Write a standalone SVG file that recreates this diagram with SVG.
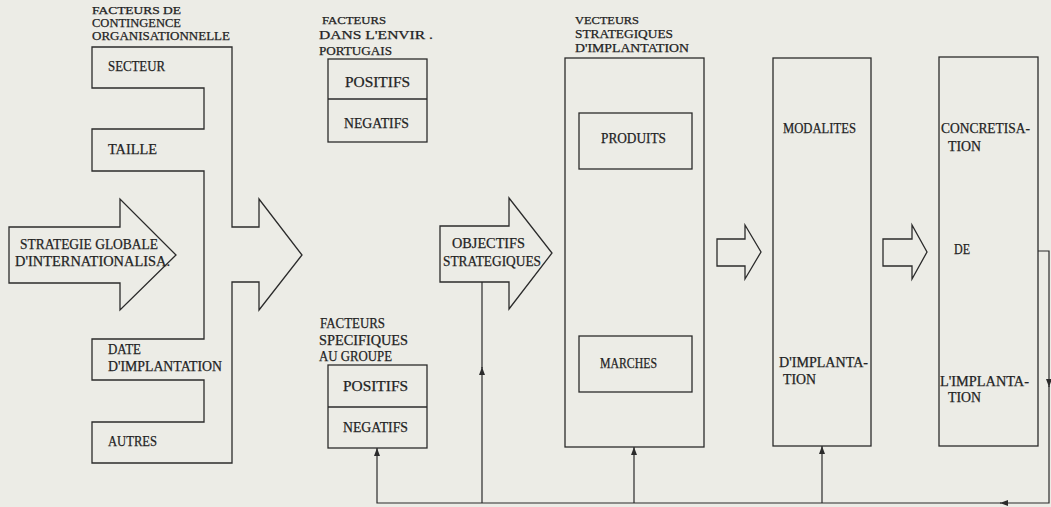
<svg xmlns="http://www.w3.org/2000/svg" width="1051" height="507" viewBox="0 0 1051 507">
<defs>
<style>
.s{fill:none;stroke:#2b2b2b;stroke-width:1.3;stroke-linejoin:miter}
.w{fill:none;stroke:#2b2b2b;stroke-width:1.2}
text{font-family:"Liberation Serif","Times New Roman",serif;fill:#232323;stroke:#232323;stroke-width:0.25}
.h{font-size:10.5px}
.m{font-size:12.5px}
.t{font-size:14.5px}
</style>
<marker id="ah" markerUnits="userSpaceOnUse" markerWidth="8" markerHeight="6" refX="8" refY="3" orient="auto">
<path d="M0,0 L8,3 L0,6 z" fill="#2b2b2b"/>
</marker>
</defs>
<rect x="0" y="0" width="1051" height="507" fill="#ecece6"/>

<g id="contingence">
<text class="h" x="92" y="14" textLength="89" lengthAdjust="spacingAndGlyphs">FACTEURS DE</text>
<text class="m" x="92" y="27" textLength="89" lengthAdjust="spacingAndGlyphs">CONTINGENCE</text>
<text class="m" x="92" y="40" textLength="138" lengthAdjust="spacingAndGlyphs">ORGANISATIONNELLE</text>
<path class="s" d="M92,47 H232 V227 H259 V199 L302,255 L259,310 V282 H232 V463 H92 V422 H204 V380 H92 V339 H204 V171 H92 V129 H204 V88 H92 Z"/>
<text class="t" x="108" y="71" textLength="57" lengthAdjust="spacingAndGlyphs">SECTEUR</text>
<text class="t" x="108" y="154" textLength="49" lengthAdjust="spacingAndGlyphs">TAILLE</text>
<text class="t" x="108" y="354" textLength="33" lengthAdjust="spacingAndGlyphs">DATE</text>
<text class="t" x="108" y="371" textLength="114" lengthAdjust="spacingAndGlyphs">D'IMPLANTATION</text>
<text class="t" x="108" y="446" textLength="49" lengthAdjust="spacingAndGlyphs">AUTRES</text>
</g>

<g id="strategie">
<path class="s" d="M9,227 H120 V199 L176,255 L120,310 V283 H9 Z"/>
<text class="t" x="20" y="249" textLength="138" lengthAdjust="spacingAndGlyphs">STRATEGIE GLOBALE</text>
<text class="t" x="15" y="266" textLength="155" lengthAdjust="spacingAndGlyphs">D'INTERNATIONALISA.</text>
</g>

<g id="env-portugais">
<text class="h" x="322" y="24" textLength="64" lengthAdjust="spacingAndGlyphs">FACTEURS</text>
<text class="m" x="319" y="39" textLength="114" lengthAdjust="spacingAndGlyphs">DANS L'ENVIR .</text>
<text class="m" x="319" y="55" textLength="73" lengthAdjust="spacingAndGlyphs">PORTUGAIS</text>
<rect class="s" x="328" y="59" width="99" height="83"/>
<line class="s" x1="328" y1="99" x2="427" y2="99"/>
<text class="t" x="345" y="87" textLength="65" lengthAdjust="spacingAndGlyphs">POSITIFS</text>
<text class="t" x="344" y="128" textLength="65" lengthAdjust="spacingAndGlyphs">NEGATIFS</text>
</g>

<g id="groupe">
<text class="t" x="320" y="328" textLength="65" lengthAdjust="spacingAndGlyphs">FACTEURS</text>
<text class="t" x="319" y="345" textLength="89" lengthAdjust="spacingAndGlyphs">SPECIFIQUES</text>
<text class="t" x="319" y="361" textLength="73" lengthAdjust="spacingAndGlyphs">AU GROUPE</text>
<rect class="s" x="328" y="365" width="99" height="83"/>
<line class="s" x1="328" y1="407" x2="427" y2="407"/>
<text class="t" x="343" y="391" textLength="65" lengthAdjust="spacingAndGlyphs">POSITIFS</text>
<text class="t" x="343" y="432" textLength="65" lengthAdjust="spacingAndGlyphs">NEGATIFS</text>
</g>

<g id="objectifs">
<path class="s" d="M440,226 H509 V198 L552,253 L509,309 V282 H440 Z"/>
<text class="t" x="452" y="248" textLength="73" lengthAdjust="spacingAndGlyphs">OBJECTIFS</text>
<text class="t" x="443" y="266" textLength="98" lengthAdjust="spacingAndGlyphs">STRATEGIQUES</text>
</g>

<g id="vecteurs">
<text class="h" x="575" y="24" textLength="64" lengthAdjust="spacingAndGlyphs">VECTEURS</text>
<text class="m" x="575" y="38" textLength="98" lengthAdjust="spacingAndGlyphs">STRATEGIQUES</text>
<text class="m" x="575" y="52" textLength="114" lengthAdjust="spacingAndGlyphs">D'IMPLANTATION</text>
<rect class="s" x="565" y="58" width="139" height="389"/>
<rect class="s" x="579" y="113" width="113" height="56"/>
<text class="t" x="601" y="143" textLength="65" lengthAdjust="spacingAndGlyphs">PRODUITS</text>
<rect class="s" x="579" y="336" width="113" height="56"/>
<text class="t" x="600" y="368" textLength="57" lengthAdjust="spacingAndGlyphs">MARCHES</text>
</g>

<g id="fleche1">
<path class="s" d="M717,239 H745 V225 L761,252 L745,279 V266 H717 Z"/>
</g>

<g id="modalites">
<rect class="s" x="773" y="58" width="98" height="388"/>
<text class="t" x="783" y="133" textLength="73" lengthAdjust="spacingAndGlyphs">MODALITES</text>
<text class="t" x="779" y="367" textLength="89" lengthAdjust="spacingAndGlyphs">D'IMPLANTA-</text>
<text class="t" x="783" y="384" textLength="33" lengthAdjust="spacingAndGlyphs">TION</text>
</g>

<g id="fleche2">
<path class="s" d="M883,239 H912 V225 L927,252 L912,279 V266 H883 Z"/>
</g>

<g id="concretisation">
<rect class="s" x="939" y="57" width="99" height="389"/>
<text class="t" x="941" y="133" textLength="89" lengthAdjust="spacingAndGlyphs">CONCRETISA-</text>
<text class="t" x="948" y="151" textLength="33" lengthAdjust="spacingAndGlyphs">TION</text>
<text class="t" x="954" y="254" textLength="16" lengthAdjust="spacingAndGlyphs">DE</text>
<text class="t" x="940" y="386" textLength="89" lengthAdjust="spacingAndGlyphs">L'IMPLANTA-</text>
<text class="t" x="948" y="402" textLength="33" lengthAdjust="spacingAndGlyphs">TION</text>
</g>

<g id="connecteurs">
<path class="w" d="M1038,251 H1049 V387" marker-end="url(#ah)"/>
<path class="w" d="M1049,386 V503 H1000" marker-end="url(#ah)"/>
<path class="w" d="M1001,503 H377 V448" marker-end="url(#ah)"/>
<path class="w" d="M482,503 V367" marker-end="url(#ah)"/>
<path class="w" d="M482,368 V282"/>
<path class="w" d="M634,503 V447" marker-end="url(#ah)"/>
<path class="w" d="M822,503 V446" marker-end="url(#ah)"/>
</g>
</svg>
